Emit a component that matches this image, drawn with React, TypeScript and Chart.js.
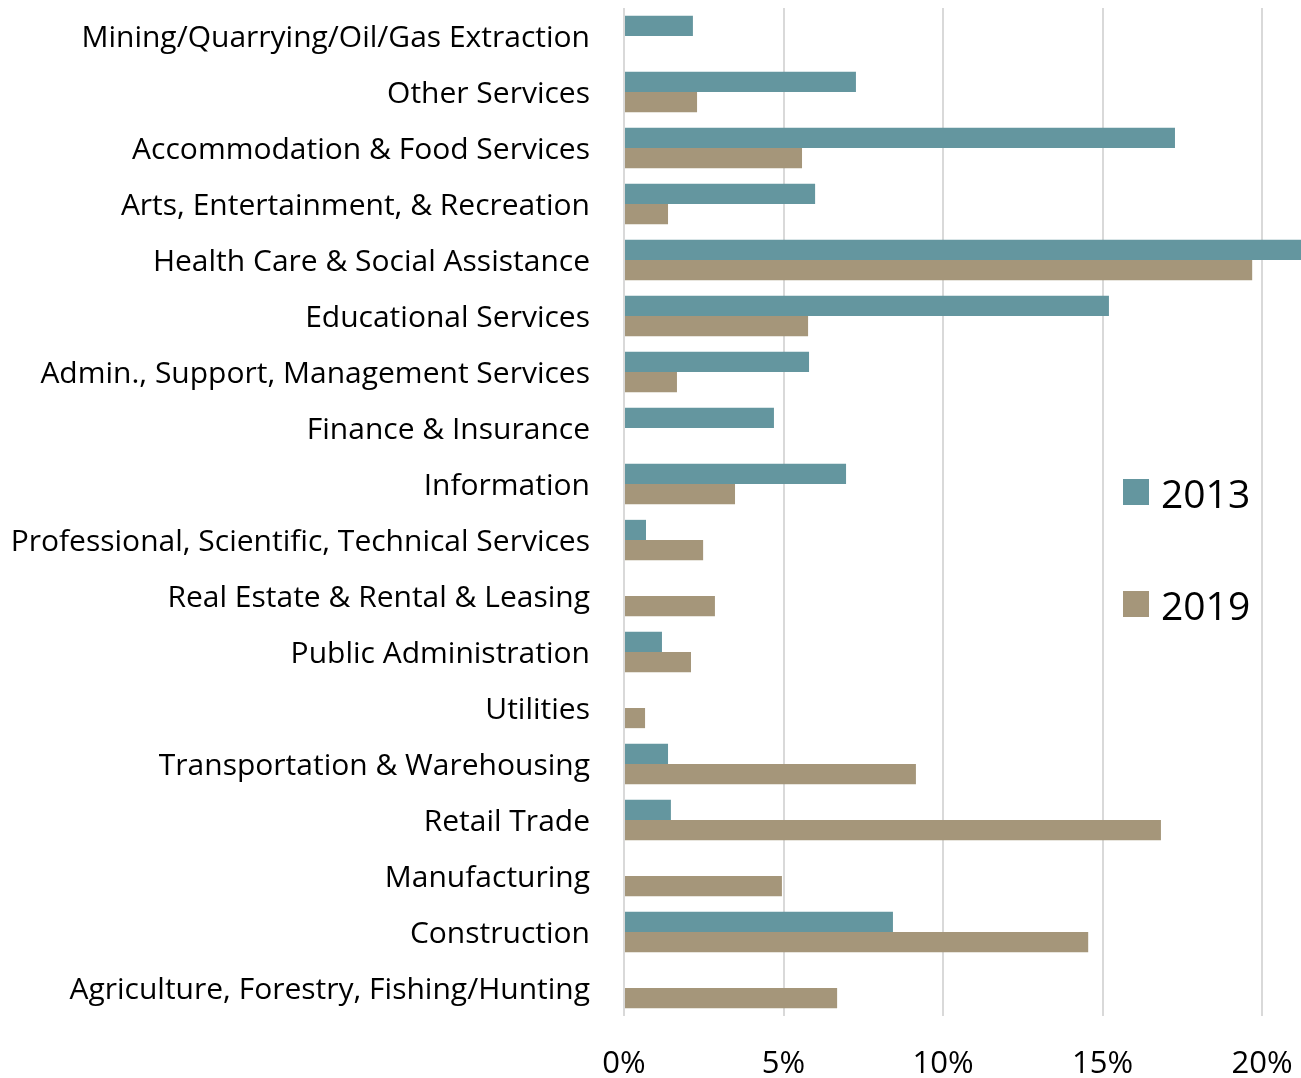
import React, { useEffect, useRef } from "react";
import { Chart, registerables } from "chart.js";

Chart.register(...registerables);

const categories = [
  "Mining/Quarrying/Oil/Gas Extraction",
  "Other Services",
  "Accommodation & Food Services",
  "Arts, Entertainment, & Recreation",
  "Health Care & Social Assistance",
  "Educational Services",
  "Admin., Support, Management Services",
  "Finance & Insurance",
  "Information",
  "Professional, Scientific, Technical Services",
  "Real Estate & Rental & Leasing",
  "Public Administration",
  "Utilities",
  "Transportation & Warehousing",
  "Retail Trade",
  "Manufacturing",
  "Construction",
  "Agriculture, Forestry, Fishing/Hunting",
];

const values2013 = [2.16, 7.27, 17.27, 5.99, 22.0, 15.2, 5.8, 4.7, 6.96, 0.69, 0, 1.19, 0, 1.38, 1.47, 0, 8.43, 0];
const values2019 = [0, 2.29, 5.58, 1.38, 19.69, 5.77, 1.66, 0, 3.48, 2.48, 2.85, 2.1, 0.66, 9.15, 16.83, 4.95, 14.55, 6.68];

const seriesLabels = ["2013", "2019"];
const seriesColors = ["#64969f", "#a5967a"];
const xTickValues = [0, 5, 10, 15, 20];

const FONT = "'Open Sans', 'DejaVu Sans', sans-serif";

function zeroPadding(scale: any) {
  scale.paddingTop = 0;
  scale.paddingBottom = 0;
  scale.paddingLeft = 0;
  scale.paddingRight = 0;
}

export default function App() {
  const canvasRef = useRef<HTMLCanvasElement | null>(null);

  useEffect(() => {
    if (!canvasRef.current) return;
    const chart = new Chart(canvasRef.current, {
      type: "bar",
      data: {
        labels: categories,
        datasets: [
          {
            label: seriesLabels[0],
            data: values2013,
            backgroundColor: seriesColors[0],
            categoryPercentage: 0.72,
            barPercentage: 1.0,
          },
          {
            label: seriesLabels[1],
            data: values2019,
            backgroundColor: seriesColors[1],
            categoryPercentage: 0.72,
            barPercentage: 1.0,
          },
        ],
      },
      options: {
        indexAxis: "y",
        animation: false,
        responsive: false,
        maintainAspectRatio: false,
        layout: { padding: { top: 8, right: 0, left: 0, bottom: 0 } },
        plugins: {
          legend: { display: false },
          tooltip: { enabled: false },
        },
        scales: {
          x: {
            min: 0,
            max: 21.22,
            afterBuildTicks: (scale: any) => {
              scale.ticks = xTickValues.map((v) => ({ value: v }));
            },
            afterFit: (scale: any) => {
              scale.height = 62;
              zeroPadding(scale);
            },
            ticks: {
              callback: (v: any) => `${v}%`,
              font: { family: FONT, size: 31 },
              color: "#000",
              padding: 30,
              maxRotation: 0,
            },
            grid: {
              color: "#d9d9d9",
              lineWidth: 2,
              drawTicks: false,
            },
            border: { display: false },
          },
          y: {
            afterFit: (scale: any) => {
              scale.width = 624;
              zeroPadding(scale);
            },
            ticks: {
              font: { family: FONT, size: 30 },
              color: "#000",
              padding: 34,
              labelOffset: 2,
              autoSkip: false,
            },
            grid: { display: false, drawTicks: false },
            border: { display: false },
          },
        },
      },
    });
    return () => chart.destroy();
  }, []);

  return (
    <div style={{ position: "fixed", left: 0, top: 0, width: 1301, height: 1078, background: "#fff" }}>
      <canvas ref={canvasRef} width={1301} height={1078} style={{ width: 1301, height: 1078 }} />
      {seriesLabels.map((label, i) => (
        <div
          key={label}
          style={{
            position: "absolute",
            left: 1123,
            top: 472 + i * 112,
            height: 40,
            display: "flex",
            alignItems: "center",
            fontFamily: FONT,
            fontSize: 39,
            color: "#000",
          }}
        >
          <span style={{ display: "inline-block", width: 26, height: 26, background: seriesColors[i], marginRight: 12 }} />
          <span>{label}</span>
        </div>
      ))}
    </div>
  );
}
